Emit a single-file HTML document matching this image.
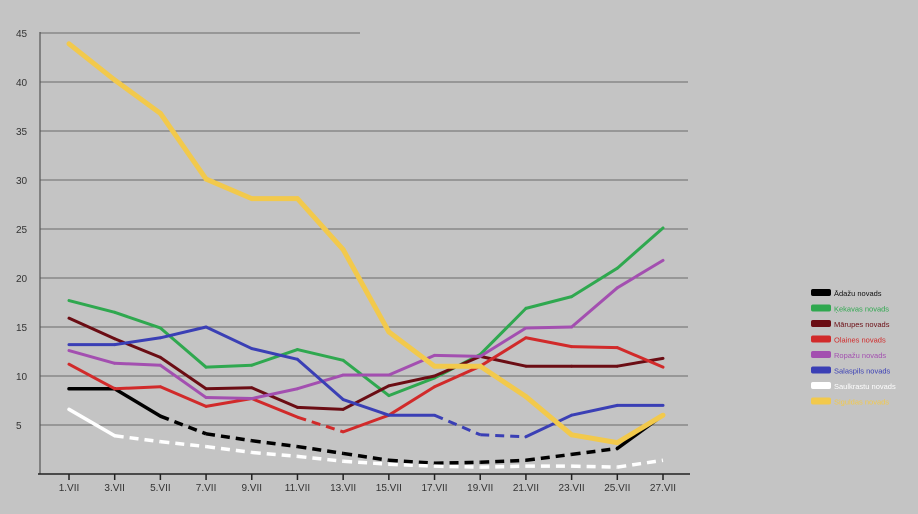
<!DOCTYPE html>
<html><head><meta charset="utf-8"><style>
html,body{margin:0;padding:0;background:#c4c4c4;}
svg{display:block;font-family:"Liberation Sans",sans-serif;}
</style></head><body>
<svg id="chart" width="918" height="514" viewBox="0 0 918 514">
<rect width="918" height="514" fill="#c4c4c4"/>
<g id="grid"></g>
<g id="axes"></g>
<g id="series"></g>
<g id="legend"></g>
</svg>
<script>
const categories = ["1.VII","3.VII","5.VII","7.VII","9.VII","11.VII","13.VII","15.VII","17.VII","19.VII","21.VII","23.VII","25.VII","27.VII"];
const yTicks = [5,10,15,20,25,30,35,40,45];
const seriesNames = ["Ādažu novads","Ķekavas novads","Mārupes novads","Olaines novads","Ropažu novads","Salaspils novads","Saulkrastu novads","Siguldas novads"];
const seriesColors = ["#000000","#2fa84f","#6b0d14","#d12a2a","#a34fb0","#3a3fb5","#ffffff","#f2c94c"];
const adazi = [8.7,8.7,5.9,4.1,3.4,2.8,2.1,1.4,1.1,1.2,1.4,2.0,2.6,6.0];
const kekava = [17.7,16.5,14.9,10.9,11.1,12.7,11.6,8.0,9.8,12.2,16.9,18.1,21.0,25.1];
const marupe = [15.9,13.8,11.9,8.7,8.8,6.8,6.6,9.0,10.0,12.0,11.0,11.0,11.0,11.8];
const olaine = [11.2,8.7,8.9,6.9,7.7,5.8,4.3,6.0,8.9,11.0,13.9,13.0,12.9,10.9];
const ropazi = [12.6,11.3,11.1,7.8,7.7,8.7,10.1,10.1,12.1,12.0,14.9,15.0,19.0,21.8];
const salaspils = [13.2,13.2,13.9,15.0,12.8,11.7,7.6,6.0,6.0,4.0,3.8,6.0,7.0,7.0];
const saulkrasti = [6.6,3.9,3.3,2.8,2.2,1.8,1.3,1.0,0.8,0.7,0.8,0.8,0.7,1.4];
const sigulda = [43.9,40.2,36.8,30.1,28.1,28.1,22.9,14.5,11.0,11.0,7.9,4.0,3.2,6.0];

const NS="http://www.w3.org/2000/svg";
const x = i => 69 + i*(663-69)/(categories.length-1);
const y = v => 474 - 9.8*v;
function mk(tag, attrs, parent){const e=document.createElementNS(NS,tag);for(const k in attrs)e.setAttribute(k,attrs[k]);parent.appendChild(e);return e;}
const grid=document.getElementById('grid'), axes=document.getElementById('axes'), ser=document.getElementById('series'), leg=document.getElementById('legend');

yTicks.forEach(t=>{
  const l=mk('line',{x1:40,x2:t===45?360:688,y1:y(t),y2:y(t),stroke:'#7c7c7c','stroke-width':1.3},grid);
  
  
  const tx=mk('text',{x:16,y:y(t)+4,'font-size':10,fill:'#333'},axes);
  tx.textContent=t;
  
  
});
let a=mk('line',{x1:40,x2:40,y1:32,y2:474,stroke:'#555','stroke-width':1.2},axes);


a=mk('line',{x1:38,x2:690,y1:474,y2:474,stroke:'#222','stroke-width':1.5},axes);


categories.forEach((c,i)=>{
  mk('line',{x1:x(i),x2:x(i),y1:474,y2:480,stroke:'#222','stroke-width':1.5},axes);
  const tx=mk('text',{x:x(i),y:491,'font-size':10,fill:'#333','text-anchor':'middle'},axes);
  tx.textContent=c;
  
  
});

const data=[adazi,kekava,marupe,olaine,ropazi,salaspils,saulkrasti,sigulda];
const widths=[3.5,3,3,3,3,3,3.5,5];
const dashRanges=[[2,12],null,null,[5,6],null,[8,10],[1,13],null];
data.forEach((d,si)=>{
  for(let i=0;i<d.length-1;i++){
    const dr=dashRanges[si];
    const dashed = dr && i>=dr[0] && i<dr[1];
    const seg=mk('line',{x1:x(i),y1:y(d[i]),x2:x(i+1),y2:y(d[i+1]),stroke:seriesColors[si],'stroke-width':widths[si],'stroke-linecap':'round'},ser);
    if(dashed) seg.setAttribute('stroke-dasharray','9 6');
    if(dashed) seg.setAttribute('stroke-linecap','butt');
    
    
  }
});

seriesNames.forEach((n,i)=>{
  const yy=293+i*15.5;
  const r=mk('rect',{x:811,y:yy-4,width:20,height:7,rx:2,fill:seriesColors[i]},leg);
  
  
  const t=mk('text',{x:834,y:yy+3,'font-size':7.5,fill:i===0?'#111':seriesColors[i]},leg);
  t.textContent=n;
  
  
});
</script>
</body></html>
